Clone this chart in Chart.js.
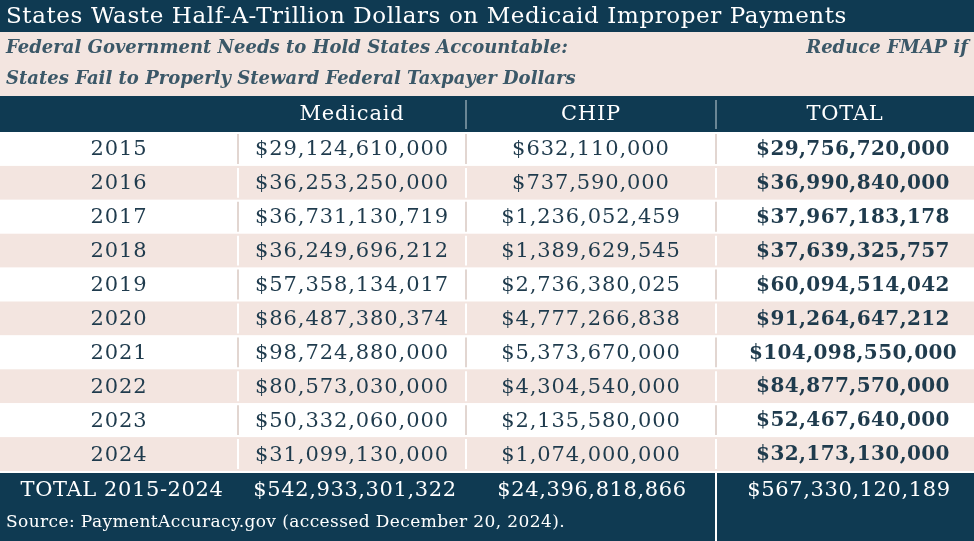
<!DOCTYPE html>
<html>
<head>
<meta charset="utf-8">
<script src="https://cdn.jsdelivr.net/npm/chart.js@4"></script>
<style>
  body { margin: 0; background: #fff; }
  #wrap { width: 974px; height: 541px; position: relative; }
</style>
</head>
<body>
<div id="wrap"><canvas id="tableChart"></canvas></div>
<script>
const title = 'States Waste Half-A-Trillion Dollars on Medicaid Improper Payments';
const subtitle1 = 'Federal Government Needs to Hold States Accountable:';
const subtitle2 = 'States Fail to Properly Steward Federal Taxpayer Dollars';
const subtitleRight = 'Reduce FMAP if';
const columns = ['', 'Medicaid', 'CHIP', 'TOTAL'];
const years = ['2015','2016','2017','2018','2019','2020','2021','2022','2023','2024'];
const medicaid = ['$29,124,610,000','$36,253,250,000','$36,731,130,719','$36,249,696,212','$57,358,134,017',
  '$86,487,380,374','$98,724,880,000','$80,573,030,000','$50,332,060,000','$31,099,130,000'];
const chip = ['$632,110,000','$737,590,000','$1,236,052,459','$1,389,629,545','$2,736,380,025',
  '$4,777,266,838','$5,373,670,000','$4,304,540,000','$2,135,580,000','$1,074,000,000'];
const total = ['$29,756,720,000','$36,990,840,000','$37,967,183,178','$37,639,325,757','$60,094,514,042',
  '$91,264,647,212','$104,098,550,000','$84,877,570,000','$52,467,640,000','$32,173,130,000'];
const totalsRow = ['TOTAL 2015-2024', '$542,933,301,322', '$24,396,818,866', '$567,330,120,189'];
const source = 'Source: PaymentAccuracy.gov (accessed December 20, 2024).';

const NAVY = '#0f3a52', PINK = '#f3e5e0', INK = '#1f3b4d', SUB = '#3b5868';
const SERIF = '"DejaVu Serif", serif';
const colEdges = [0, 238, 466, 716, 974];

const tablePlugin = {
  id: 'tablePlugin',
  beforeDraw(chart) {
    const ctx = chart.ctx;
    const y = chart.scales.y;
    const W = chart.width, H = chart.height;
    const band = y.getPixelForValue(1) - y.getPixelForValue(0);
    const mid = i => (colEdges[i] + colEdges[i + 1]) / 2;
    ctx.save();
    ctx.fillStyle = '#fff'; ctx.fillRect(0, 0, W, H);
    // title
    ctx.fillStyle = NAVY; ctx.fillRect(0, 0, W, 32);
    ctx.fillStyle = '#fff'; ctx.font = '23px ' + SERIF; ctx.textBaseline = 'middle';
    ctx.letterSpacing = '0.6px';
    ctx.textAlign = 'left'; ctx.fillText(title, 6, 17);
    // subtitle
    ctx.letterSpacing = '0px';
    ctx.fillStyle = PINK; ctx.fillRect(0, 32, W, 64);
    ctx.fillStyle = SUB; ctx.font = 'italic bold 18px ' + SERIF;
    ctx.fillText(subtitle1, 6, 48); ctx.fillText(subtitle2, 6, 79);
    ctx.textAlign = 'right'; ctx.fillText(subtitleRight, 968, 48);
    // header
    const top = y.getPixelForValue(0) - band / 2;
    ctx.fillStyle = NAVY; ctx.fillRect(0, 96, W, top - 96);
    ctx.fillStyle = '#fff'; ctx.font = '21px ' + SERIF; ctx.textAlign = 'center';
    ctx.letterSpacing = '0.8px';
    for (let c = 1; c < 4; c++) ctx.fillText(columns[c], mid(c), (96 + top) / 2 + 1);
    ctx.strokeStyle = '#8aa0ad'; ctx.lineWidth = 1.5;
    [466, 716].forEach(x => { ctx.beginPath(); ctx.moveTo(x, 100); ctx.lineTo(x, top - 3); ctx.stroke(); });
    // rows
    years.forEach((yr, i) => {
      const cy = y.getPixelForValue(i);
      ctx.fillStyle = i % 2 ? PINK : '#fff';
      ctx.fillRect(0, cy - band / 2, W, band);
      ctx.strokeStyle = i % 2 ? '#fff' : '#e2d6d1'; ctx.lineWidth = 2;
      [238, 466, 716].forEach(x => { ctx.beginPath(); ctx.moveTo(x, cy - band / 2 + 2); ctx.lineTo(x, cy + band / 2 - 2); ctx.stroke(); });
      ctx.fillStyle = INK; ctx.font = '21px ' + SERIF; ctx.letterSpacing = '0.9px';
      ctx.fillText(yr, mid(0), cy + 1);
      ctx.fillText(medicaid[i], mid(1), cy + 1);
      ctx.fillText(chip[i], mid(2), cy + 1);
      ctx.font = 'bold 20px ' + SERIF; ctx.letterSpacing = '0.4px';
      ctx.fillText(total[i], mid(3) + 8, cy + 1);
    });
    // footer
    const bot = y.getPixelForValue(years.length - 1) + band / 2 + 2;
    ctx.fillStyle = NAVY; ctx.fillRect(0, bot, W, H - bot);
    ctx.strokeStyle = '#fff'; ctx.lineWidth = 2;
    ctx.beginPath(); ctx.moveTo(716, bot); ctx.lineTo(716, H); ctx.stroke();
    ctx.fillStyle = '#fff'; ctx.font = '21px ' + SERIF; ctx.letterSpacing = '0.6px';
    ctx.fillText(totalsRow[0], 122, bot + 18);
    ctx.fillText(totalsRow[1], 355, bot + 18);
    ctx.fillText(totalsRow[2], 592, bot + 18);
    ctx.fillText(totalsRow[3], mid(3) + 4, bot + 18);
    ctx.textAlign = 'left'; ctx.font = '17px ' + SERIF; ctx.letterSpacing = '0.4px';
    ctx.fillText(source, 6, bot + 50);
    ctx.restore();
  }
};

new Chart(document.getElementById('tableChart'), {
  type: 'bar',
  data: { labels: years, datasets: [{ data: years.map(() => 0), backgroundColor: 'transparent' }] },
  options: {
    indexAxis: 'y',
    responsive: true,
    maintainAspectRatio: false,
    animation: false,
    layout: { padding: { top: 132, bottom: 70, left: 0, right: 0 } },
    plugins: { legend: { display: false }, tooltip: { enabled: false } },
    scales: {
      x: { display: false },
      y: { display: false, offset: true }
    }
  },
  plugins: [tablePlugin]
});
</script>
</body>
</html>
